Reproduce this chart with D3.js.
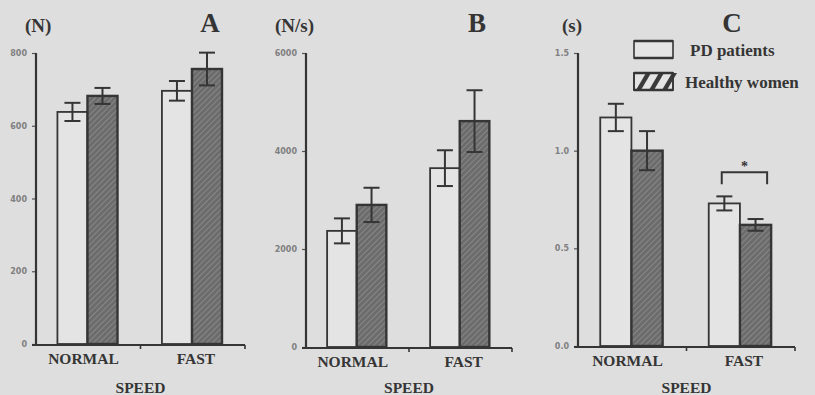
<!DOCTYPE html>
<html>
<head>
<meta charset="utf-8">
<script src="https://cdn.jsdelivr.net/npm/d3@7/dist/d3.min.js"></script>
<style>
  html, body { margin: 0; padding: 0; background: #dedede; }
  svg { display: block; }
</style>
</head>
<body>
<svg id="chart" width="815" height="395"></svg>
<script>
// Categories and groups
const speeds = ["NORMAL", "FAST"];
const groups = ["PD patients", "Healthy women"];

// A: peak force (N)
const forcePD = [638, 696];
const forcePDErr = [25, 27];
const forceHW = [682, 756];
const forceHWErr = [22, 45];
const forceTicks = [0, 200, 400, 600, 800];

// B: rate of force development (N/s)
const ratePD = [2370, 3650];
const ratePDErr = [255, 365];
const rateHW = [2900, 4610];
const rateHWErr = [350, 630];
const rateTicks = [0, 2000, 4000, 6000];

// C: time (s)
const timePD = [1.17, 0.73];
const timePDErr = [0.07, 0.036];
const timeHW = [1.00, 0.62];
const timeHWErr = [0.10, 0.03];
const timeTicks = [0.0, 0.5, 1.0, 1.5];

const ink = "#353535";
const bg = "#dedede";
const SERIF = '"Liberation Serif", "Times New Roman", serif';

const svg = d3.select("#chart");
svg.append("rect").attr("width", 815).attr("height", 395).attr("fill", bg);

// serif bold text helper
function label(parent, x, y, size, txt, anchor) {
  return parent.append("text")
    .attr("x", x).attr("y", y)
    .attr("text-anchor", anchor || "start")
    .style("font-family", SERIF).style("font-weight", "bold")
    .style("font-size", size + "px").attr("fill", ink)
    .text(txt);
}

// Fine diagonal hatch for the bars
const defs = svg.append("defs");
const hatch = defs.append("pattern")
  .attr("id", "hatch").attr("patternUnits", "userSpaceOnUse")
  .attr("width", 4).attr("height", 4)
  .attr("patternTransform", "rotate(45)");
hatch.append("rect").attr("width", 4).attr("height", 4).attr("fill", "#6c6c6c");
hatch.append("line").attr("x1", 0).attr("y1", 0).attr("x2", 0).attr("y2", 4)
  .attr("stroke", "#8e8e8e").attr("stroke-width", 1.6);

function panel(cfg) {
  const g = svg.append("g");
  const y = d3.scaleLinear().domain([0, cfg.max]).range([cfg.y0, cfg.yTop]);
  const x = d3.scaleBand().domain(speeds).range([cfg.x0, cfg.x1]);
  const bw = x.bandwidth();
  const xg = d3.scaleBand().domain(groups).range([0.205 * bw, 0.78 * bw]);

  // y axis
  const yAxis = d3.axisLeft(y).tickValues(cfg.ticks)
    .tickFormat(cfg.fmt).tickSize(4).tickPadding(5);
  const ya = g.append("g").attr("transform", `translate(${cfg.x0},0)`).call(yAxis);
  ya.select(".domain").remove();
  ya.selectAll(".tick line").attr("stroke", "#555").attr("stroke-width", 1.2);
  ya.selectAll(".tick text").attr("fill", "#808080")
    .style("font-family", '"DejaVu Sans", sans-serif').style("font-size", "8px")
    .style("font-weight", "bold");
  g.append("line").attr("x1", cfg.x0).attr("x2", cfg.x0)
    .attr("y1", cfg.yTop).attr("y2", cfg.y0 + 1)
    .attr("stroke", ink).attr("stroke-width", 2.2);

  // bars
  const rows = [];
  speeds.forEach((s, i) => {
    rows.push({ s, grp: groups[0], v: cfg.pd[i], e: cfg.pdErr[i] });
    rows.push({ s, grp: groups[1], v: cfg.hw[i], e: cfg.hwErr[i] });
  });
  const w = xg.bandwidth();
  g.selectAll("rect.bar").data(rows).enter().append("rect")
    .attr("class", "bar")
    .attr("x", d => x(d.s) + xg(d.grp))
    .attr("y", d => y(d.v))
    .attr("width", w)
    .attr("height", d => y(0) - y(d.v))
    .attr("fill", d => d.grp === groups[0] ? "#e4e4e4" : "url(#hatch)")
    .attr("stroke", ink)
    .attr("stroke-width", d => d.grp === groups[0] ? 1.8 : 2.4);

  // error bars
  const eb = g.selectAll("g.err").data(rows).enter().append("g").attr("class", "err");
  const cx = d => x(d.s) + xg(d.grp) + w / 2;
  eb.append("line").attr("x1", cx).attr("x2", cx)
    .attr("y1", d => y(d.v + d.e)).attr("y2", d => y(d.v - d.e));
  eb.append("line").attr("x1", d => cx(d) - 8).attr("x2", d => cx(d) + 8)
    .attr("y1", d => y(d.v + d.e)).attr("y2", d => y(d.v + d.e));
  eb.append("line").attr("x1", d => cx(d) - 8).attr("x2", d => cx(d) + 8)
    .attr("y1", d => y(d.v - d.e)).attr("y2", d => y(d.v - d.e));
  eb.selectAll("line").attr("stroke", ink).attr("stroke-width", 2);

  // x axis
  const xa = g.append("g");
  xa.append("line").attr("x1", cfg.x0 - 4).attr("x2", cfg.x1)
    .attr("y1", cfg.y0 + 1).attr("y2", cfg.y0 + 1)
    .attr("stroke", ink).attr("stroke-width", 2.2);
  xa.selectAll("line.tk").data([x(speeds[1]), cfg.x1]).enter().append("line")
    .attr("x1", d => d).attr("x2", d => d)
    .attr("y1", cfg.y0 + 1).attr("y2", cfg.y0 + 5)
    .attr("stroke", ink).attr("stroke-width", 1.6);
  speeds.forEach(s => {
    label(xa, x(s) + xg(groups[1]) + (s === "FAST" ? 4 : -4), cfg.y0 + 20, 15.5, s, "middle");
  });
  label(xa, (cfg.x0 + cfg.x1) / 2, 393, 15.5, "SPEED", "middle");

  // unit and panel letter
  label(g, cfg.unitX, 32, 19, cfg.unit);
  label(g, cfg.letterX, 32, 27, cfg.letter, "middle");

  return { x, xg, y, w };
}

panel({ x0: 36, x1: 245, y0: 344, yTop: 53, max: 800, ticks: forceTicks,
  fmt: d3.format("d"), pd: forcePD, pdErr: forcePDErr, hw: forceHW, hwErr: forceHWErr,
  unit: "(N)", unitX: 25, letter: "A", letterX: 210 });

panel({ x0: 306, x1: 512, y0: 347, yTop: 53, max: 6000, ticks: rateTicks,
  fmt: d3.format("d"), pd: ratePD, pdErr: ratePDErr, hw: rateHW, hwErr: rateHWErr,
  unit: "(N/s)", unitX: 275, letter: "B", letterX: 477 });

const pc = panel({ x0: 578, x1: 795, y0: 346, yTop: 53, max: 1.5, ticks: timeTicks,
  fmt: d3.format(".1f"), pd: timePD, pdErr: timePDErr, hw: timeHW, hwErr: timeHWErr,
  unit: "(s)", unitX: 562, letter: "C", letterX: 732 });

// significance bracket between the FAST groups in C
const bx1 = pc.x("FAST") + pc.xg(groups[0]) + 13;
const bx2 = pc.x("FAST") + pc.xg(groups[1]) + pc.w - 4;
const by = pc.y(timePD[1] + timePDErr[1]) - 24;
svg.append("path")
  .attr("d", `M${bx1},${by + 12}V${by}H${bx2}V${by + 12}`)
  .attr("fill", "none").attr("stroke", ink).attr("stroke-width", 2);
label(svg, (bx1 + bx2) / 2, by - 1, 14, "*", "middle");

// legend
const leg = svg.append("g");
const legRows = [
  { label: groups[0], y: 41, hatched: false },
  { label: groups[1], y: 73, hatched: true }
];
legRows.forEach(r => {
  leg.append("rect").attr("x", 634).attr("y", r.y).attr("width", 39).attr("height", 17)
    .attr("fill", "#e4e4e4").attr("stroke", ink).attr("stroke-width", 1.6);
  if (r.hatched) {
    // three bold slanted strokes
    [0, 1, 2].forEach(k => {
      const sx = 636 + k * 13;
      leg.append("path")
        .attr("d", `M${sx},${r.y + 17}L${sx + 10},${r.y}L${sx + 15},${r.y}L${sx + 5},${r.y + 17}Z`)
        .attr("fill", "#3a3a3a");
    });
    leg.append("rect").attr("x", 634).attr("y", r.y).attr("width", 39).attr("height", 17)
      .attr("fill", "none").attr("stroke", ink).attr("stroke-width", 1.6);
  }
  leg.append("line").attr("x1", 634).attr("x2", 673).attr("y1", r.y).attr("y2", r.y)
    .attr("stroke", ink).attr("stroke-width", 2.6);
  leg.append("line").attr("x1", 634).attr("x2", 673).attr("y1", r.y + 17).attr("y2", r.y + 17)
    .attr("stroke", ink).attr("stroke-width", 2.6);
  label(leg, r.hatched ? 685 : 690, r.y + 15, 17, r.label);
});
</script>
</body>
</html>
